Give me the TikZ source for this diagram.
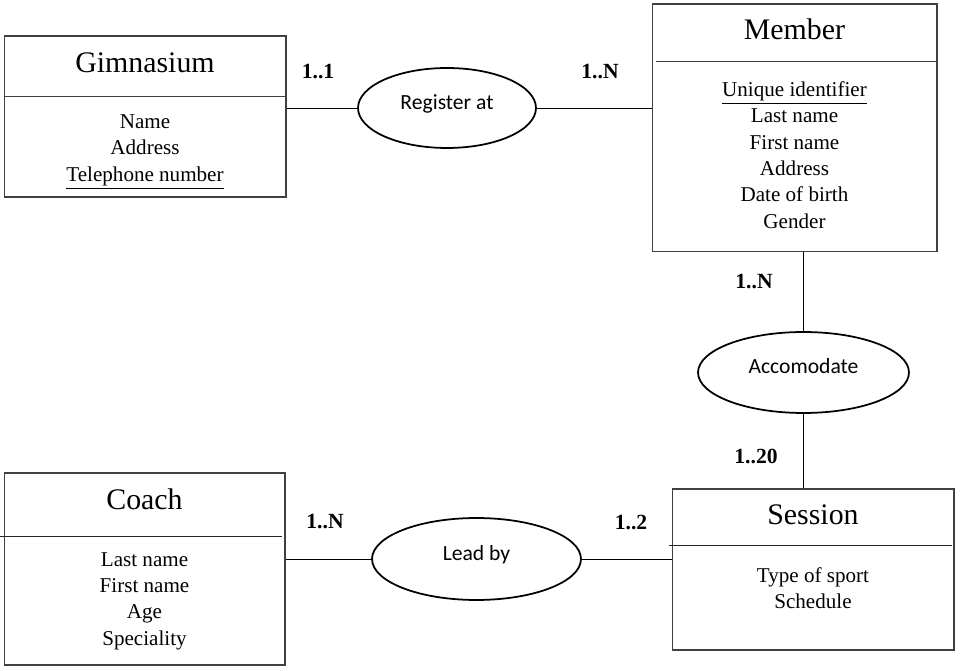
\documentclass[tikz,border=0pt]{standalone}
\usepackage{fontspec}
\setmainfont{Liberation Serif}
\newfontfamily\relfont{Carlito}
\usetikzlibrary{shapes.geometric}

\tikzset{
  entity/.style={draw, rectangle, inner sep=0pt, line width=0.6pt, black!75},
  title/.style={font=\fontsize{17}{20}\selectfont},
  attrs/.style={align=center, font=\fontsize{12}{15}\selectfont},
  relation/.style={draw, ellipse, inner sep=0pt, line width=1pt, text depth=0.25cm,
                   font=\relfont\fontsize{12.3}{14}\selectfont},
  card/.style={font=\bfseries\fontsize{12.3}{14}\selectfont},
  link/.style={line width=0.5pt}
}

\begin{document}
\begin{tikzpicture}[x=0.02cm, y=-0.02cm]
  \useasboundingbox (0,0) rectangle (960,671);

  % entities
  \node[entity, minimum width=5.64cm, minimum height=3.22cm] (gym) at (145,116.5) {};
  \draw[black!75] ([yshift=-1.22cm]gym.north west) -- ([yshift=-1.22cm]gym.north east);
  \node[title] (gymT) at (145,63) {Gimnasium};
  \node[attrs] (gymA) at (145,152) {Name\\Address\\\underline{Telephone number}};

  \node[entity, minimum width=5.7cm, minimum height=4.96cm] (member) at (794.5,128) {};
  \draw[black!75] ([xshift=0.08cm,yshift=-1.16cm]member.north west) -- ([yshift=-1.16cm]member.north east);
  \node[title] (memberT) at (794.5,29) {Member};
  \node[attrs] (memberA) at (794.5,155)
       {\underline{Unique identifier}\\Last name\\First name\\Address\\Date of birth\\Gender};

  \node[entity, minimum width=5.64cm, minimum height=3.22cm] (session) at (813,569.5) {};
  \draw[black!85] ([xshift=-0.06cm,yshift=-1.14cm]session.north west) -- ([xshift=-0.06cm,yshift=-1.14cm]session.north east);
  \node[title] (sessionT) at (813,515) {Session};
  \node[attrs] (sessionA) at (813,588) {Type of sport\\Schedule};

  \node[entity, minimum width=5.62cm, minimum height=3.84cm] (coach) at (144.5,569) {};
  \draw[black!85] ([xshift=-0.08cm,yshift=-1.28cm]coach.north west) -- ([xshift=-0.08cm,yshift=-1.28cm]coach.north east);
  \node[title] (coachT) at (144.5,499) {Coach};
  \node[attrs] (coachA) at (144.5,601) {Last name\\First name\\Age\\Speciality};

  % relations
  \node[relation, minimum width=3.56cm, minimum height=1.6cm] (register) at (447,108) {Register at};
  \node[relation, minimum width=4.22cm, minimum height=1.62cm] (accom) at (803.5,372.5) {Accomodate};
  \node[relation, minimum width=4.18cm, minimum height=1.64cm] (lead) at (476.5,559) {Lead by};

  % links
  \draw[link] (register.west -| gym.east) -- (register.west);
  \draw[link] (register.east) -- (register.east -| member.west);
  \draw[link] (member.south -| accom.north) -- (accom.north);
  \draw[link] (accom.south) -- (accom.south |- session.north);
  \draw[link] (lead.west -| coach.east) -- (lead.west);
  \draw[link] (lead.east) -- (lead.east -| session.west);

  % cardinalities
  \node[card] (cGym) at (318,72) {1..1};
  \node[card] (cMemberR) at (600,72) {1..N};
  \node[card] (cMemberA) at (754,282) {1..N};
  \node[card] (cSessionA) at (756,456) {1..20};
  \node[card] (cSessionL) at (631,523) {1..2};
  \node[card] (cCoach) at (325,522) {1..N};
\end{tikzpicture}
\end{document}
